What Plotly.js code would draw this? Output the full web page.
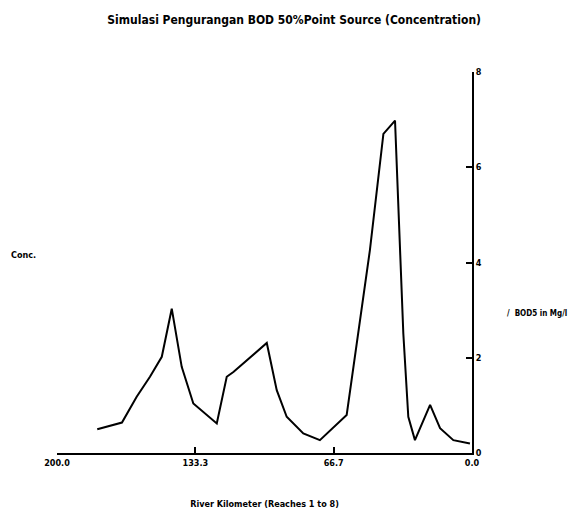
<!DOCTYPE html>
<html>
<head>
<meta charset="utf-8">
<script src="https://cdn.plot.ly/plotly-3.0.1.min.js"></script>
<style>html,body{margin:0;padding:0;background:#fff;}#chart{width:569px;height:509px;}</style>
</head>
<body>
<div id="chart"></div>
<script>
// River kilometer (reversed axis) and BOD5 concentration (mg/l)
const riverKm = [180.6, 168.7, 161.6, 155.2, 149.5, 144.7, 139.9, 134.3, 123.0, 118.2, 115.0, 110.2, 98.9, 94.1, 89.3, 81.3, 73.3, 60.4, 49.2, 42.7, 37.1, 33.1, 30.7, 27.5, 24.2, 20.2, 15.4, 9.0, 1.0];
const bod5 = [0.50, 0.64, 1.18, 1.60, 2.02, 3.03, 1.81, 1.04, 0.62, 1.60, 1.70, 1.88, 2.31, 1.32, 0.76, 0.41, 0.27, 0.80, 4.26, 6.70, 6.98, 2.51, 0.76, 0.27, 0.62, 1.01, 0.52, 0.27, 0.20];
const xTickVals = [200, 133.33, 66.67, 0];
const xTickText = ["200.0", "133.3", "66.7", "0.0"];
const yTickVals = [0, 2, 4, 6, 8];
const yTickText = ["0", "2", "4", "6", "8"];

const F = "'DejaVu Sans Condensed', 'DejaVu Sans', sans-serif";

const trace = {
  x: riverKm, y: bod5, type: 'scatter', mode: 'lines',
  line: {color: '#000', width: 2}, hoverinfo: 'skip'
};

const layout = {
  width: 569, height: 509,
  margin: {l: 57, r: 97, t: 72, b: 56},
  paper_bgcolor: '#fff', plot_bgcolor: '#fff',
  showlegend: false,
  title: {text: '<b>Simulasi Pengurangan BOD 50%Point Source (Concentration)</b>',
          font: {family: F, size: 12, color: '#000', stretch: 'condensed'}, x: 0.517, xanchor: 'center', y: 0.962, yanchor: 'middle'},
  xaxis: {
    range: [200, 0], tickvals: xTickVals, ticktext: xTickText,
    showgrid: false, zeroline: false, showline: true, linecolor: '#000', linewidth: 2,
    ticks: 'inside', ticklen: 6, tickwidth: 2, tickcolor: '#000',
    tickfont: {family: F, size: 9, color: '#000', weight: 'bold', stretch: 'condensed'},
    title: {text: '<b>River Kilometer (Reaches 1 to 8)</b>', font: {family: F, size: 9, color: '#000', stretch: 'condensed'}, standoff: 34}
  },
  yaxis: {
    range: [0, 8], side: 'right', tickvals: yTickVals, ticktext: yTickText,
    showgrid: false, zeroline: false, showline: true, linecolor: '#000', linewidth: 2,
    ticks: 'inside', ticklen: 6, tickwidth: 2, tickcolor: '#000',
    tickfont: {family: F, size: 9, color: '#000', weight: 'bold', stretch: 'condensed'}
  },
  annotations: [
    {text: '<b>Conc.</b>', xref: 'paper', yref: 'paper', x: -0.115, y: 0.52, xanchor: 'left', yanchor: 'middle', showarrow: false,
     font: {family: F, size: 9, color: '#000', stretch: 'condensed'}},
    {text: '<b>/  BOD5 in Mg/l</b>', xref: 'paper', yref: 'paper', x: 1.08, y: 0.365, xanchor: 'left', yanchor: 'middle', showarrow: false,
     font: {family: F, size: 8, color: '#000', stretch: 'condensed'}}
  ]
};

Plotly.newPlot('chart', [trace], layout, {displayModeBar: false, staticPlot: true});
</script>
</body>
</html>
